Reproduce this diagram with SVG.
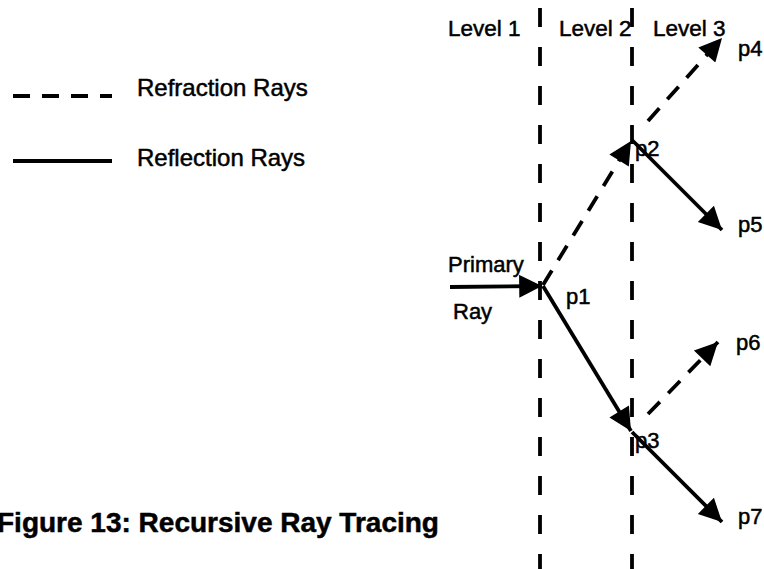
<svg xmlns="http://www.w3.org/2000/svg" width="764" height="569" viewBox="0 0 764 569">
  <style>
    text { font-family: "Liberation Sans", Arial, sans-serif; fill: #000; stroke: #000; stroke-width: 0.5; }
    .lvl { font-size: 22.5px; }
    .leg { font-size: 24px; }
    .lbl { font-size: 22px; }
    .title { font-size: 28px; font-weight: bold; }
    .div { stroke: #000; stroke-width: 3.8; stroke-dasharray: 19 20; fill: none; }
    .refl { stroke: #000; stroke-width: 3.8; fill: none; }
    .refr { stroke: #000; stroke-width: 3.8; stroke-dasharray: 17 12; fill: none; }
  </style>
  <defs>
    <marker id="head" viewBox="0 0 10 10" refX="10" refY="5" markerWidth="8.5" markerHeight="6" markerUnits="strokeWidth" orient="auto">
      <path d="M0,0 L10,5 L0,10 Z" fill="#000"/>
    </marker>
  </defs>

  <!-- level dividers -->
  <g id="dividers">
    <line class="div" x1="540" y1="8" x2="540" y2="569"/>
    <line class="div" x1="632" y1="8" x2="632" y2="569"/>
  </g>

  <g id="levels">
    <text class="lvl" x="448" y="36">Level 1</text>
    <text class="lvl" x="559" y="36">Level 2</text>
    <text class="lvl" x="653" y="36">Level 3</text>
  </g>

  <!-- legend -->
  <g id="legend">
    <line class="refr" x1="13" y1="96" x2="112" y2="96" stroke-dasharray="10 12"/>
    <text class="leg" x="137" y="96">Refraction Rays</text>
    <line class="refl" x1="13" y1="161" x2="112" y2="161"/>
    <text class="leg" x="137" y="166">Reflection Rays</text>
  </g>

  <!-- rays -->
  <g id="connectors">
    <line class="refl" x1="450" y1="287" x2="542" y2="286" marker-end="url(#head)"/>
    <line class="refr" x1="543" y1="285" x2="631" y2="141" marker-end="url(#head)"/>
    <line class="refl" x1="543" y1="286" x2="631" y2="431" marker-end="url(#head)"/>
    <line class="refr" x1="648" y1="121" x2="722" y2="38" marker-end="url(#head)"/>
    <line class="refl" x1="632" y1="140" x2="722" y2="230" marker-end="url(#head)"/>
    <line class="refr" x1="648" y1="414" x2="718" y2="342" marker-end="url(#head)"/>
    <line class="refl" x1="632" y1="432" x2="722" y2="522" marker-end="url(#head)"/>
  </g>

  <g id="primary">
    <text class="lbl" x="448" y="272">Primary</text>
    <text class="lbl" x="453" y="319">Ray</text>
  </g>
  <g id="p1"><text class="lbl" x="566" y="304">p1</text></g>
  <g id="p2"><text class="lbl" x="635" y="156">p2</text></g>
  <g id="p3"><text class="lbl" x="635" y="448">p3</text></g>
  <g id="p4"><text class="lbl" x="738" y="56">p4</text></g>
  <g id="p5"><text class="lbl" x="738" y="232">p5</text></g>
  <g id="p6"><text class="lbl" x="736" y="350">p6</text></g>
  <g id="p7"><text class="lbl" x="738" y="524">p7</text></g>

  <g id="caption">
    <text class="title" x="-3" y="532">Figure 13: Recursive Ray Tracing</text>
  </g>
</svg>
